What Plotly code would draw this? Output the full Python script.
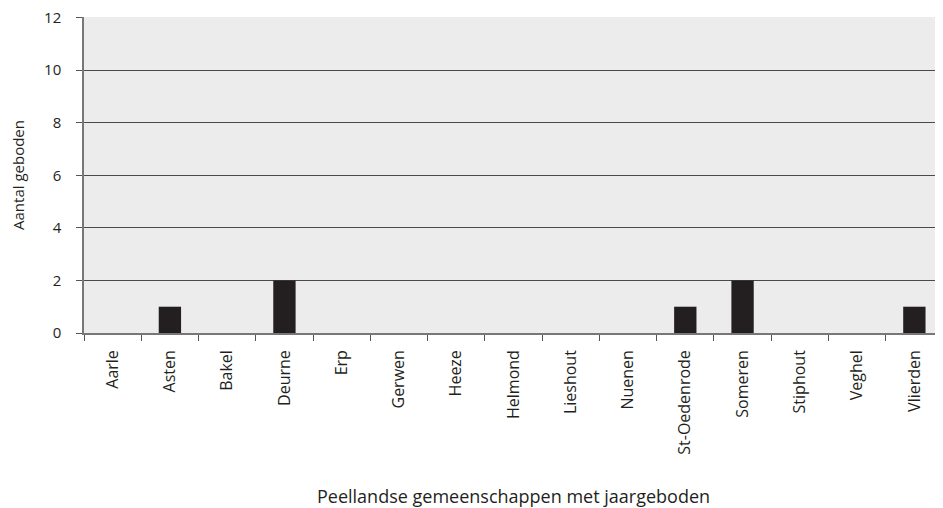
import plotly.graph_objects as go

gemeenten = ["Aarle", "Asten", "Bakel", "Deurne", "Erp", "Gerwen", "Heeze",
             "Helmond", "Lieshout", "Nuenen", "St-Oedenrode", "Someren",
             "Stiphout", "Veghel", "Vlierden"]
geboden = [0, 1, 0, 2, 0, 0, 0, 0, 0, 0, 1, 2, 0, 0, 1]
y_ticks = [0, 2, 4, 6, 8, 10, 12]

FONT = "Open Sans"
TXT = "#231f20"

fig = go.Figure(go.Bar(
    x=gemeenten, y=geboden,
    marker=dict(color="#231f20", line=dict(width=0)),
    showlegend=False,
))

# pagina heeft 8px body-marge, dus figuur iets kleiner dan het venster
fig.update_layout(
    width=935, height=500,
    paper_bgcolor="white", plot_bgcolor="#ececec",
    margin=dict(l=76, r=0, t=9, b=175),
    bargap=0.61,
    font=dict(family=FONT, color=TXT, size=15),
    xaxis=dict(
        automargin=False,
        tickangle=-90, tickfont=dict(size=16, color=TXT),
        ticks="outside", tickson="boundaries", ticklen=6, tickcolor="#555",
        ticklabelstandoff=9,
        showline=True, linecolor="#777", linewidth=1.5,
        showgrid=False,
        title=dict(text="Peellandse gemeenschappen met jaargeboden",
                   font=dict(size=18, color=TXT), standoff=38),
    ),
    yaxis=dict(
        automargin=False,
        range=[0, 12.02], tickvals=y_ticks,
        tickfont=dict(size=15, color=TXT),
        ticklabeloverflow="allow",
        ticks="outside", ticklen=6, tickcolor="#555",
        ticklabelstandoff=12,
        showline=True, linecolor="#777", linewidth=1.5,
        showgrid=True, gridcolor="#4a4a4a", gridwidth=1,
        zeroline=False,
        title=dict(text="Aantal geboden", font=dict(size=15, color=TXT),
                   standoff=26),
    ),
)

fig.write_html("out.html")
